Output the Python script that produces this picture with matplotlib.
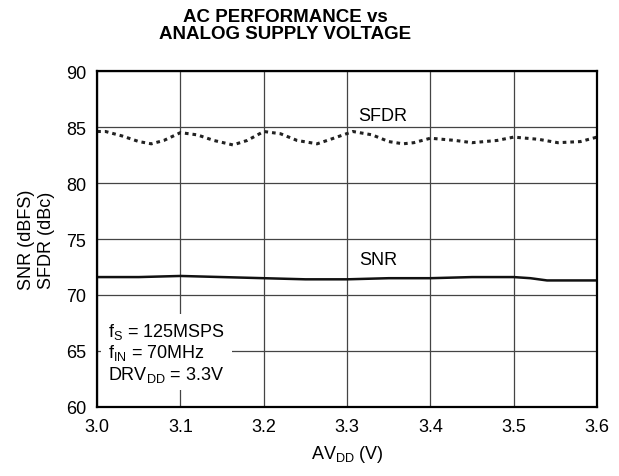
import numpy as np
import matplotlib.pyplot as plt

plt.rcParams['font.family'] = ['Liberation Sans', 'DejaVu Sans']
plt.rcParams['mathtext.fontset'] = 'custom'
plt.rcParams['mathtext.rm'] = 'Liberation Sans'

# Werte
sfdr_x = [3.00, 3.01, 3.03, 3.05, 3.065, 3.08, 3.10, 3.12, 3.14, 3.163, 3.18, 3.20,
          3.22, 3.24, 3.264, 3.28, 3.307, 3.33, 3.35, 3.367, 3.38, 3.40, 3.43,
          3.45, 3.48, 3.50, 3.53, 3.553, 3.58, 3.60]
sfdr_y = [84.6, 84.6, 84.2, 83.7, 83.5, 83.8, 84.5, 84.3, 83.8, 83.4, 83.8, 84.6,
          84.4, 83.8, 83.5, 83.9, 84.6, 84.3, 83.7, 83.5, 83.6, 84.0, 83.8,
          83.6, 83.8, 84.1, 83.9, 83.6, 83.7, 84.1]

snr_x = [3.00, 3.05, 3.10, 3.15, 3.20, 3.25, 3.30, 3.35, 3.40, 3.45, 3.50, 3.52, 3.54, 3.60]
snr_y = [71.6, 71.6, 71.7, 71.6, 71.5, 71.4, 71.4, 71.5, 71.5, 71.6, 71.6, 71.5, 71.3, 71.3]

x_ticks = [3.0, 3.1, 3.2, 3.3, 3.4, 3.5, 3.6]
y_ticks = [60, 65, 70, 75, 80, 85, 90]

fig = plt.figure(figsize=(6.19, 4.77), dpi=100)
ax = fig.add_axes([0.157, 0.1447, 0.8075, 0.7043])

ax.plot(sfdr_x, sfdr_y, color='#222222', lw=2.2, linestyle=(0, (1.2, 1.3)))
ax.plot(snr_x, snr_y, color='#111111', lw=1.8)

ax.set_xlim(3.0, 3.6)
ax.set_ylim(60, 90)
ax.set_xticks(x_ticks)
ax.set_yticks(y_ticks)
ax.set_xticklabels([f"{v:.1f}" for v in x_ticks])
ax.tick_params(length=0, labelsize=13, pad=8)
ax.grid(True, color='#444444', lw=0.9)
ax.set_axisbelow(True)
for s in ax.spines.values():
    s.set_linewidth(1.6)
    s.set_color('black')

ax.text(3.343, 86.0, "SFDR", fontsize=13, ha='center', va='center')
ax.text(3.338, 73.2, "SNR", fontsize=13, ha='center', va='center')

ax.text(3.013, 64.9,
        "f$_\\mathregular{S}$ = 125MSPS\n"
        "f$_\\mathregular{IN}$ = 70MHz\n"
        "DRV$_\\mathregular{DD}$ = 3.3V",
        fontsize=13, ha='left', va='center', linespacing=1.1,
        bbox=dict(facecolor='white', edgecolor='none', pad=5))

ax.set_xlabel("AV$_\\mathregular{DD}$ (V)", fontsize=13, labelpad=6)
ax.set_ylabel("SNR (dBFS)\nSFDR (dBc)", fontsize=13, labelpad=8)

fig.text(0.461, 0.945, "AC PERFORMANCE vs\nANALOG SUPPLY VOLTAGE", ha='center', va='center',
         fontsize=13.5, fontweight='bold', linespacing=1.0)

fig.savefig("out.png", dpi=100)
